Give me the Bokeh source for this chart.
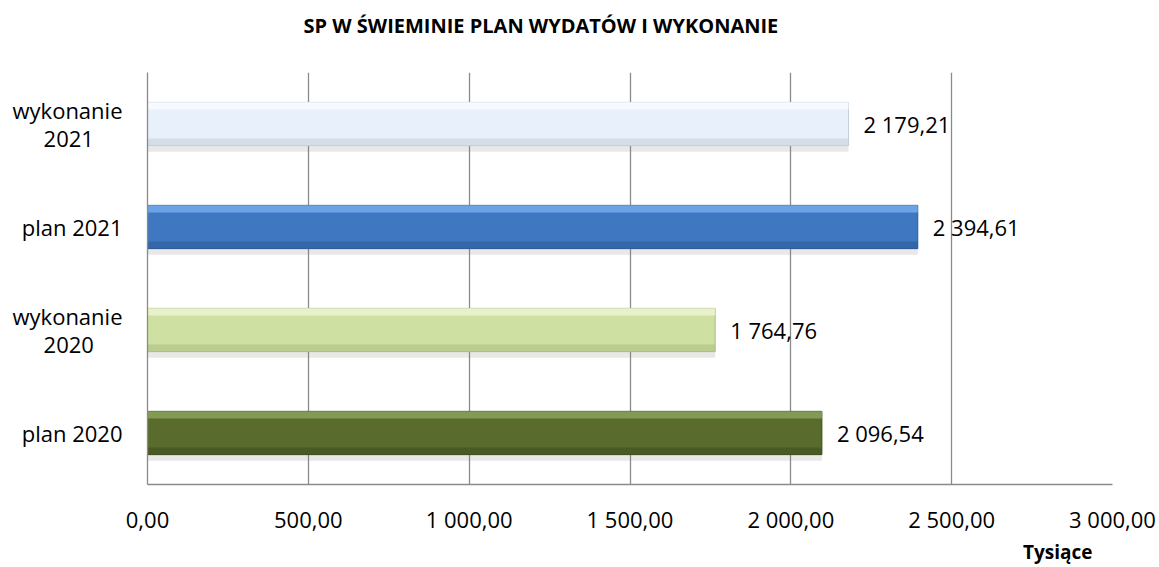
from bokeh.plotting import figure
from bokeh.models import ColumnDataSource, FixedTicker, LabelSet, Title, Range1d
from bokeh.core.properties import value
from bokeh.embed import file_html
from bokeh.resources import INLINE

categories = ["plan 2020", "wykonanie\n2020", "plan 2021", "wykonanie\n2021"]
values = [2096.54, 1764.76, 2394.61, 2179.21]
value_labels = ["2 096,54", "1 764,76", "2 394,61", "2 179,21"]
bar_colors = ["#596c2d", "#cfe0a3", "#3f78c0", "#e8f1fb"]
top_colors = ["#86a058", "#eaf3cf", "#72a7e8", "#f8fbff"]
bottom_colors = ["#3e4d1e", "#acbc83", "#2c5a95", "#c3cedb"]
x_ticks = [0, 500, 1000, 1500, 2000, 2500, 3000]
x_tick_labels = ["0,00", "500,00", "1 000,00", "1 500,00", "2 000,00", "2 500,00", "3 000,00"]
title_text = "SP W ŚWIEMINIE PLAN WYDATÓW I WYKONANIE"
unit_text = "Tysiące"

FONT = "Open Sans"
BAR_H = 0.42
ys = [i + 0.5 for i in range(len(categories))]

src = ColumnDataSource(dict(
    y=ys, v=values, lab=value_labels, cat=categories,
    c=bar_colors, ct=top_colors, cb=bottom_colors,
    y_top=[y + BAR_H / 2 - 0.035 for y in ys],
    y_bot=[y - BAR_H / 2 + 0.035 for y in ys],
    y_sh=[y - BAR_H / 2 - 0.03 for y in ys],
))

p = figure(width=1159, height=567, output_backend="svg", toolbar_location=None,
           x_range=Range1d(0, 3000), y_range=Range1d(0, 4),
           min_border_left=147, min_border_right=47, min_border_top=72, min_border_bottom=83)
p.outline_line_color = None
p.background_fill_color = "white"

HAS_STANDOFF = "standoff" in Title.properties()

# title: hide the default one, stack a small spacer and the real title above the frame
p.title.text = ""
p.title.visible = False
spacer = Title(text=" ", text_font=FONT, text_font_size="12px")
p.add_layout(spacer, "above")
main_title = Title(text=title_text, align="left", offset=156, text_font=FONT,
                   text_font_size="20px", text_font_style="bold", text_color="#000000")
p.add_layout(main_title, "above")

unit_title = Title(text=unit_text, align="right", offset=20, text_font=FONT,
                   text_font_size="19px", text_font_style="bold", text_color="#000000")
if HAS_STANDOFF:
    unit_title.standoff = 1
p.add_layout(unit_title, "below")

# grid
p.ygrid.visible = False
p.xgrid.ticker = FixedTicker(ticks=x_ticks)
p.xgrid.grid_line_color = "#8a8a8a"
p.xgrid.grid_line_width = 1.3

# shadow
p.hbar(y="y_sh", right="v", left=0, height=0.06, fill_color="#808080", fill_alpha=0.18, line_color=None, source=src)
# bars
p.hbar(y="y", right="v", left=0, height=BAR_H, fill_color="c", line_color="cb", line_width=1, source=src)
p.hbar(y="y_top", right="v", left=0, height=0.07, fill_color="ct", line_color=None, fill_alpha=0.9, source=src)
p.hbar(y="y_bot", right="v", left=0, height=0.07, fill_color="cb", line_color=None, fill_alpha=0.55, source=src)

# value labels
p.add_layout(LabelSet(x="v", y="y", text="lab", source=src, x_offset=15,
                      text_font=value(FONT), text_font_size="22px", text_color="#000000",
                      text_align="left", text_baseline="middle"))

# x axis
xa = p.xaxis[0]
xa.ticker = FixedTicker(ticks=x_ticks)
xa.major_label_overrides = {t: l for t, l in zip(x_ticks, x_tick_labels)}
xa.major_tick_line_color = None
xa.minor_tick_line_color = None
xa.axis_line_color = "#8a8a8a"
xa.axis_line_width = 1.3
xa.major_label_text_font = FONT
xa.major_label_text_font_size = "22px"
xa.major_label_text_color = "#000000"
xa.major_label_standoff = 13


def centered(label):
    # pad the short second line with no-break spaces so both lines look centred
    lines = label.split("\n")
    if len(lines) == 2:
        return lines[0] + "\n" + lines[1] + "\u00a0" * 5
    return label


# y axis with category labels
ya = p.yaxis[0]
ya.ticker = FixedTicker(ticks=ys)
ya.major_label_overrides = {y: centered(c) for y, c in zip(ys, categories)}
ya.major_tick_line_color = None
ya.minor_tick_line_color = None
ya.axis_line_color = "#8a8a8a"
ya.axis_line_width = 1.3
ya.major_label_text_font = FONT
ya.major_label_text_font_size = "22px"
ya.major_label_text_color = "#000000"
ya.major_label_text_line_height = 0.95
ya.major_label_standoff = 19

open("out.html", "w").write(file_html(p, INLINE))
